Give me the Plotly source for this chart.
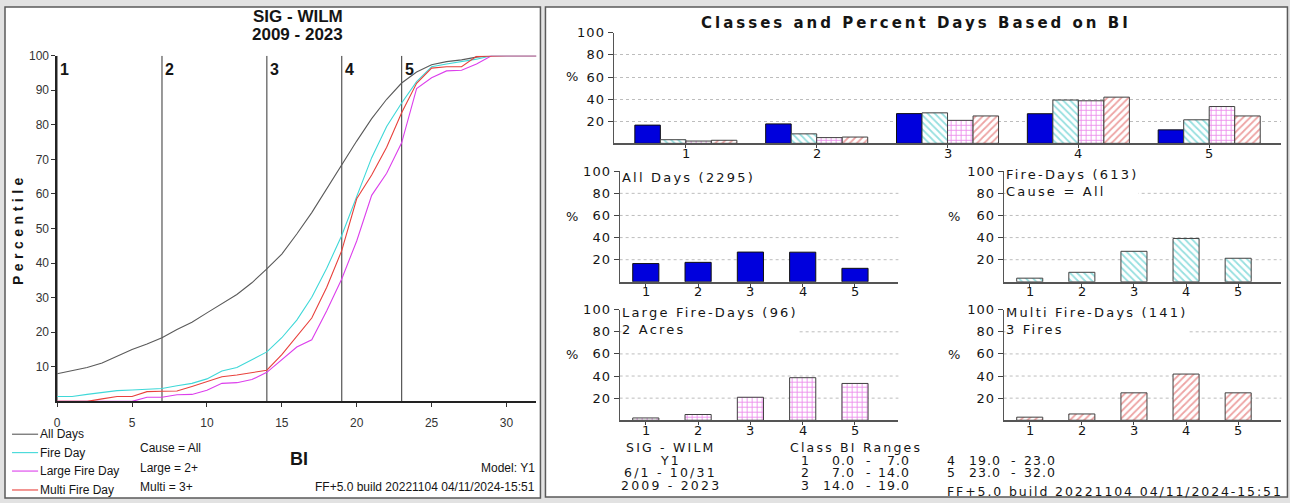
import plotly.graph_objects as go

W, H = 1290, 503

# ---------------- data ----------------
# cumulative percentile of days at or below each BI value
bi_values = list(range(33))
all_days = [8.0, 8.8, 9.8, 11.1, 13.0, 15.0, 16.6, 18.4, 20.8, 22.9, 25.6, 28.2, 30.9,
            34.3, 38.3, 42.6, 48.4, 54.6, 61.6, 68.5, 75.3, 81.8, 87.4, 92.1, 95.3,
            97.4, 98.3, 98.8, 99.6, 100, 100, 100, 100]
fire_day = [1.4, 1.4, 2.0, 2.6, 3.1, 3.3, 3.6, 3.7, 4.5, 5.2, 6.5, 8.8, 9.8,
            12.0, 14.3, 18.4, 23.5, 30.1, 38.5, 48.0, 59.0, 70.5, 79.5, 86.3, 92.5,
            96.8, 97.6, 98.2, 99.0, 100, 100, 100, 100]
large_fire_day = [0, 0, 0, 0, 0, 0, 1.2, 1.2, 1.9, 2.0, 3.2, 5.2, 5.4,
                  6.3, 8.4, 12.0, 15.7, 17.8, 26.2, 35.4, 46.4, 59.6, 66.0, 74.8, 90.5,
                  93.6, 95.6, 95.8, 97.6, 100, 100, 100, 100]
multi_fire_day = [0, 0, 0, 0.7, 1.4, 1.4, 2.8, 2.9, 3.0, 4.3, 5.8, 7.1, 7.6,
                  8.4, 9.0, 13.5, 18.7, 24.1, 33.0, 43.6, 58.6, 65.5, 73.5, 83.5, 92.0,
                  96.4, 96.8, 96.8, 99.8, 100, 100, 100, 100]

# BI class ranges
class_labels = ["1", "2", "3", "4", "5"]
class_lower = [0.0, 7.0, 14.0, 19.0, 23.0]
class_upper = [7.0, 14.0, 19.0, 23.0, 32.0]

# percent of days falling in each class
pct_all_days = [16.5, 17.6, 26.9, 26.8, 12.2]
pct_fire_days = [3.3, 8.6, 27.6, 39.2, 21.3]
pct_large_fire = [2.1, 5.2, 20.8, 38.5, 33.3]
pct_multi_fire = [2.8, 5.7, 24.8, 41.8, 24.8]

left_y_ticks = [10, 20, 30, 40, 50, 60, 70, 80, 90, 100]
left_x_ticks = [0, 5, 10, 15, 20, 25, 30]
pct_ticks = [20, 40, 60, 80, 100]

# ---------------- styling ----------------
LEFT_FONT = "Liberation Sans, Arial, sans-serif"
RIGHT_FONT = "DejaVu Sans, Verdana, sans-serif"
INK = "#151515"

line_colors = {
    "All Days": "#5a5a5a",
    "Fire Day": "#3fd8d8",
    "Large Fire Day": "#dc3fec",
    "Multi Fire Day": "#e8413c",
}

bar_markers = [
    dict(color="#0000dd", line=dict(color="#101010", width=1)),
    dict(color="white", line=dict(color="#404040", width=1),
         pattern=dict(shape="\\", fgcolor="#2ec0c0", bgcolor="white", size=5, solidity=0.35)),
    dict(color="white", line=dict(color="#404040", width=1),
         pattern=dict(shape="+", fgcolor="#d81cd8", bgcolor="white", size=5, solidity=0.32)),
    dict(color="white", line=dict(color="#404040", width=1),
         pattern=dict(shape="/", fgcolor="#dc4848", bgcolor="white", size=5, solidity=0.35)),
]


# pixel position on the page -> paper fraction
def fx(x):
    return ((x - 3.0) / 0.995) / W


def fy(y):
    return 1 - ((y - 5.1) / 0.99) / H


def spaced(text, ls):
    return f'<span style="letter-spacing:{ls}px">{text}</span>'


annotations = []
shapes = []


def note(text, x, y, size=12, bold=False, family=LEFT_FONT, xanchor="left",
         yanchor="middle", angle=0, bg=None):
    t = f"<b>{text}</b>" if bold else text
    a = dict(text=t, x=fx(x), y=fy(y), xref="paper", yref="paper", showarrow=False,
             xanchor=xanchor, yanchor=yanchor, textangle=angle, borderpad=0,
             align="left" if xanchor == "left" else ("right" if xanchor == "right" else "center"),
             font=dict(family=family, size=size, color=INK))
    if bg:
        a["bgcolor"] = bg
    annotations.append(a)


def rnote(text, x, y, size=13, xanchor="left", bold=False, ls=2.2, bg=None):
    note(spaced(text, ls), x, y, size=size, bold=bold, family=RIGHT_FONT,
         xanchor=xanchor, bg=bg)


fig = go.Figure()

# ---------------- left: percentile curves ----------------
series = [("All Days", all_days), ("Fire Day", fire_day),
          ("Large Fire Day", large_fire_day), ("Multi Fire Day", multi_fire_day)]
for name, vals in series:
    fig.add_trace(go.Scatter(x=bi_values, y=vals, mode="lines", name=name,
                             line=dict(color=line_colors[name], width=1.1),
                             xaxis="x", yaxis="y", showlegend=False))

for b, lab in zip(class_lower, class_labels):
    shapes.append(dict(type="line", xref="x", yref="y", x0=b, x1=b, y0=0, y1=100,
                       line=dict(color="#555555", width=1.2), layer="below"))
    annotations.append(dict(text=f"<b>{lab}</b>", x=b, y=96, xref="x", yref="y",
                            xanchor="left", yanchor="middle", showarrow=False, xshift=1,
                            font=dict(family=LEFT_FONT, size=16, color=INK)))

# ---------------- right: class bar charts ----------------
top_width = 0.195
for k, vals in enumerate([pct_all_days, pct_fire_days, pct_large_fire, pct_multi_fire]):
    fig.add_trace(go.Bar(x=[1, 2, 3, 4, 5], y=vals, width=top_width,
                         offset=-2 * top_width + k * top_width,
                         marker=bar_markers[k], xaxis="x2", yaxis="y2", showlegend=False))

small = [(pct_all_days, "x3", "y3", 0), (pct_fire_days, "x4", "y4", 1),
         (pct_large_fire, "x5", "y5", 2), (pct_multi_fire, "x6", "y6", 3)]
for vals, xa, ya, k in small:
    fig.add_trace(go.Bar(x=[1, 2, 3, 4, 5], y=vals, width=0.5, offset=-0.25,
                         marker=bar_markers[k], xaxis=xa, yaxis=ya, showlegend=False))


def pct_yaxis(top, bottom, anchor, grid=True):
    return dict(domain=[fy(bottom), fy(top)], range=[0, 100], anchor=anchor,
                tickvals=pct_ticks, ticktext=[spaced(str(v), 1) for v in pct_ticks],
                ticks="outside", ticklen=5, tickcolor="#444",
                showline=True, linecolor="#555", linewidth=1.2,
                showgrid=grid, gridcolor="#bdbdbd", griddash="dot", gridwidth=1,
                zeroline=False, fixedrange=True,
                tickfont=dict(family=RIGHT_FONT, size=13, color=INK))


def cls_xaxis(left, right, rng, anchor):
    return dict(domain=[fx(left), fx(right)], range=rng, anchor=anchor,
                tickvals=[1, 2, 3, 4, 5], showticklabels=False,
                ticks="outside", ticklen=3, tickcolor="#444",
                showline=True, linecolor="#555", linewidth=1.5,
                showgrid=False, zeroline=False, fixedrange=True)


# dotted guide lines on the small panels (the 100 level carries the panel caption)
for xa, ya in [("x3", "y3"), ("x4", "y4"), ("x5", "y5"), ("x6", "y6")]:
    for v in pct_ticks[:-1]:
        shapes.append(dict(type="line", xref=f"{xa} domain", yref=ya, x0=0, x1=1,
                           y0=v, y1=v, layer="below",
                           line=dict(color="#bdbdbd", width=1, dash="dot")))

# class tick labels placed just under each bar chart baseline
for xa, base in [("x2", 142), ("x3", 281), ("x4", 281), ("x5", 420), ("x6", 420)]:
    for i, lab in enumerate(class_labels):
        annotations.append(dict(text=lab, x=i + 1, y=fy(base + 10), xref=xa, yref="paper",
                                showarrow=False, xanchor="center", yanchor="middle",
                                font=dict(family=RIGHT_FONT, size=13, color=INK)))

# ---------------- panels ----------------
shapes.insert(0, dict(type="rect", xref="paper", yref="paper", x0=fx(5), x1=fx(539),
                      y0=fy(498), y1=fy(5), fillcolor="white",
                      line=dict(color="#5a5a5a", width=1.5), layer="below"))
shapes.insert(1, dict(type="rect", xref="paper", yref="paper", x0=fx(544), x1=fx(1284),
                      y0=fy(497), y1=fy(5), fillcolor="white",
                      line=dict(color="#5a5a5a", width=1.5), layer="below"))

# ---------------- left panel text ----------------
note("SIG - WILM", 297, 15, size=17, bold=True, xanchor="center")
note("2009 - 2023", 297, 33, size=17, bold=True, xanchor="center")
note(spaced("Percentile", 4.5), 18, 228, size=14, bold=True, xanchor="center", angle=-90)
note("BI", 298, 459, size=18, bold=True, xanchor="center")

legend_y = [434, 452.5, 471, 490]
for (name, _), yy in zip(series, legend_y):
    shapes.append(dict(type="line", xref="paper", yref="paper", x0=fx(12), x1=fx(38),
                       y0=fy(yy), y1=fy(yy), line=dict(color=line_colors[name], width=1.1)))
    note(name, 39, yy, size=12)

note("Cause = All", 139, 447.5, size=12)
note("Large = 2+", 139, 467.5, size=12)
note("Multi = 3+", 139, 487.5, size=12)
note("Model: Y1", 535, 467.5, size=12, xanchor="right")
note("FF+5.0 build 20221104 04/11/2024-15:51", 535, 487, size=12, xanchor="right")

# ---------------- right panel text ----------------
rnote("Classes and Percent Days Based on BI", 914, 21, size=15, bold=True,
      xanchor="center", ls=3.0)
for x, y in [(570, 75), (570, 215), (570, 354), (951, 215), (951, 354)]:
    rnote("%", x, y, xanchor="center", ls=0)

rnote("All Days (2295)", 619, 176.5, bg="white")
rnote("Fire-Days (613)<br>Cause = All", 1002, 181.5, bg="white")
rnote("Large Fire-Days (96)<br>2 Acres", 619, 320.5, bg="white")
rnote("Multi Fire-Days (141)<br>3 Fires", 1002, 320.5, bg="white")

for txt, yy in [("SIG - WILM", 447), ("Y1", 460), ("6/1 - 10/31", 472.5), ("2009 - 2023", 485)]:
    rnote(txt, 669, yy, size=12.5, xanchor="center")

rnote("Class BI Ranges", 854, 447, size=12.5, xanchor="center")
row_y = [460, 472.5, 485]
for i, (lab, lo, hi) in enumerate(zip(class_labels, class_lower, class_upper)):
    col = 0 if i < 3 else 1
    yy = row_y[i if i < 3 else i - 3]
    dx = 145 * col
    rnote(lab, 803 + dx, yy, size=12.5, xanchor="center", ls=0)
    rnote(f"{lo:.1f}", 854 + dx, yy, size=12.5, xanchor="right", ls=1)
    rnote("-", 866 + dx, yy, size=12.5, xanchor="center", ls=0)
    rnote(f"{hi:.1f}", 909 + dx, yy, size=12.5, xanchor="right", ls=1)

rnote("FF+5.0 build 20221104 04/11/2024-15:51", 1281, 492, size=12.5,
      xanchor="right", ls=1.9)

# ---------------- layout ----------------
fig.update_layout(
    width=W, height=H, margin=dict(l=0, r=0, t=0, b=0),
    paper_bgcolor="#e2e2e2", plot_bgcolor="rgba(0,0,0,0)",
    barmode="overlay", showlegend=False,
    xaxis=dict(domain=[fx(57), fx(535)], range=[0, 32], anchor="y",
               tickvals=left_x_ticks, ticks="outside", ticklen=4, tickcolor="#333",
               showline=True, linecolor="#222", linewidth=1.5, showgrid=False,
               zeroline=False, ticklabelstandoff=6,
               tickfont=dict(family=LEFT_FONT, size=12, color="#333")),
    yaxis=dict(domain=[fy(401), fy(54)], range=[0, 100], anchor="x",
               tickvals=left_y_ticks, ticks="outside", ticklen=4, tickcolor="#333",
               showline=True, linecolor="#222", linewidth=1.5, showgrid=False,
               zeroline=False,
               tickfont=dict(family=LEFT_FONT, size=12, color="#333")),
    xaxis2=cls_xaxis(612, 1278, [0.448, 5.552], "y2"),
    yaxis2=pct_yaxis(31, 142, "x2"),
    xaxis3=cls_xaxis(618, 896, [0.5, 5.83], "y3"),
    yaxis3=pct_yaxis(170, 281, "x3", grid=False),
    xaxis4=cls_xaxis(1001, 1278, [0.5, 5.83], "y4"),
    yaxis4=pct_yaxis(170, 281, "x4", grid=False),
    xaxis5=cls_xaxis(618, 896, [0.5, 5.83], "y5"),
    yaxis5=pct_yaxis(309, 420, "x5", grid=False),
    xaxis6=cls_xaxis(1001, 1278, [0.5, 5.83], "y6"),
    yaxis6=pct_yaxis(309, 420, "x6", grid=False),
    shapes=shapes,
    annotations=annotations,
)

fig.write_html("out.html")
